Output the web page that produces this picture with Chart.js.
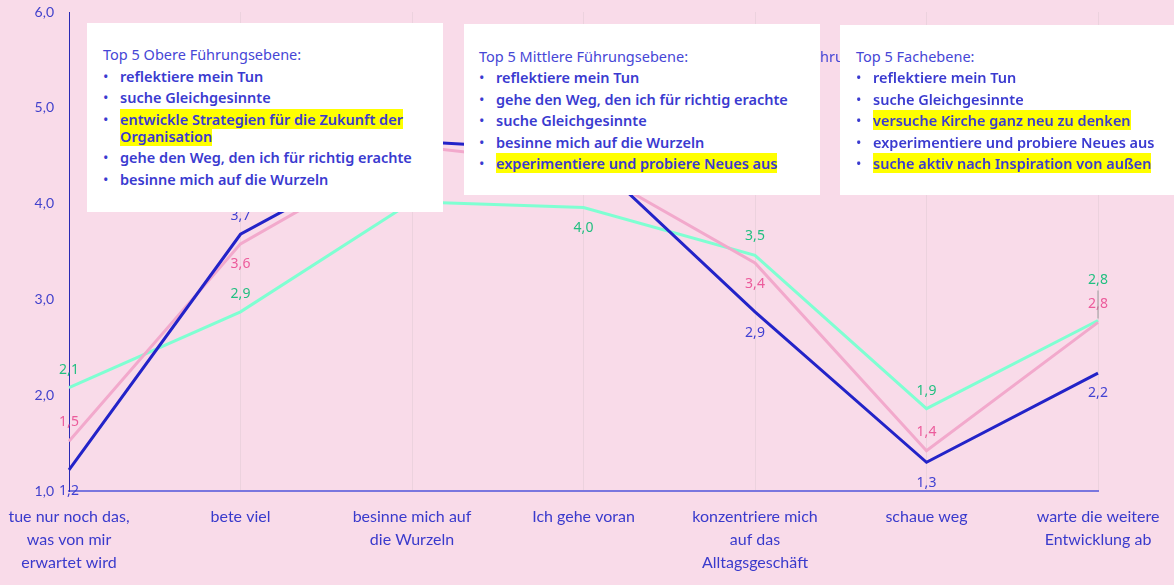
<!DOCTYPE html>
<html>
<head>
<meta charset="utf-8">
<script src="https://cdn.jsdelivr.net/npm/chart.js@4.4.1/dist/chart.umd.min.js"></script>
<style>
  html, body { margin: 0; padding: 0; background: #f9dbe9; }
  #wrap { position: relative; width: 1174px; height: 585px; overflow: hidden; }
  #myChart { position: absolute; left: 0; top: 0; }
  .note {
    position: absolute; background: #fff; box-sizing: border-box;
    font-family: "Noto Sans", sans-serif; font-size: 14.5px; color: #3a3ad0;
  }
  .note .head { line-height: 17px; color: #4646d6; }
  .note ul { list-style: none; margin: 0; padding: 0; }
  .note li { position: relative; line-height: 17px; margin-top: 4.6px; font-weight: 600; padding-left: 17px; }
  .note li::before { content: "\2022"; position: absolute; left: 0; top: 0; font-weight: 400; }
  .hl { background: #ffff00; }
  #title { position: absolute; top: 48px; left: 600px; white-space: nowrap;
    font-family: "Noto Sans", sans-serif; font-size: 14.5px; color: #4646d6; line-height: 17px; }
</style>
</head>
<body>
<div id="wrap">
  <canvas id="myChart" width="1174" height="585"></canvas>
  <div id="title">Mittelwerte nach Fü<span id="frag">hru</span>ngsebene</div>
  <div class="note" style="left:87px; top:23px; width:356px; height:189px; padding:23px 0 0 16px;">
    <div class="head">Top 5 Obere Führungsebene:</div>
    <ul>
      <li>reflektiere mein Tun</li>
      <li>suche Gleichgesinnte</li>
      <li><span class="hl">entwickle Strategien für die Zukunft der </span><br><span class="hl">Organisation</span></li>
      <li>gehe den Weg, den ich für richtig erachte</li>
      <li>besinne mich auf die Wurzeln</li>
    </ul>
  </div>
  <div class="note" style="left:464px; top:24px; width:356px; height:171px; padding:23.5px 0 0 15px;">
    <div class="head">Top 5 Mittlere Führungsebene:</div>
    <ul>
      <li>reflektiere mein Tun</li>
      <li>gehe den Weg, den ich für richtig erachte</li>
      <li>suche Gleichgesinnte</li>
      <li>besinne mich auf die Wurzeln</li>
      <li><span class="hl">experimentiere und probiere Neues aus</span></li>
    </ul>
  </div>
  <div class="note" style="left:840px; top:25px; width:340px; height:170px; padding:22.5px 0 0 16px;">
    <div class="head">Top 5 Fachebene:</div>
    <ul>
      <li>reflektiere mein Tun</li>
      <li>suche Gleichgesinnte</li>
      <li><span class="hl">versuche Kirche ganz neu zu denken</span></li>
      <li>experimentiere und probiere Neues aus</li>
      <li><span class="hl">suche aktiv nach Inspiration von außen</span></li>
    </ul>
  </div>
</div>
<script>
var categories = [
  ["tue nur noch das,", "was von mir", "erwartet wird"],
  ["bete viel"],
  ["besinne mich auf", "die Wurzeln"],
  ["Ich gehe voran"],
  ["konzentriere mich", "auf das", "Alltagsgeschäft"],
  ["schaue weg"],
  ["warte die weitere", "Entwicklung ab"]
];
var obereValues    = [1.22, 3.68, 4.65, 4.55, 2.87, 1.30, 2.23];
var mittlereValues = [1.52, 3.58, 4.60, 4.40, 3.38, 1.42, 2.76];
var fachValues     = [2.08, 2.87, 4.02, 3.96, 3.46, 1.86, 2.78];
var yTicks = [1, 2, 3, 4, 5, 6];

// where the value labels sit relative to the point (px, negative = above)
var obereOffsets    = [21, -18, -18, -18, 21, 21, 20];
var mittlereOffsets = [-19, 20, -18, -18, 21, -19, -18];
var fachOffsets     = [-18, -18, -18, 21, -19, -18, -40];

function fmt(v) { return v.toFixed(1).replace(".", ","); }

var valueLabels = {
  id: "valueLabels",
  afterDatasetsDraw: function(chart) {
    var ctx = chart.ctx;
    ctx.save();
    ctx.font = "14px 'Noto Sans'";
    ctx.textAlign = "center";
    ctx.textBaseline = "middle";
    chart.data.datasets.forEach(function(ds, i) {
      var meta = chart.getDatasetMeta(i);
      meta.data.forEach(function(pt, j) {
        var off = ds.labelOffsets[j];
        if (Math.abs(off) > 30) {
          ctx.strokeStyle = "#9a9a9a";
          ctx.lineWidth = 1;
          ctx.beginPath();
          ctx.moveTo(pt.x, pt.y + off + 10);
          ctx.lineTo(pt.x, pt.y - 2);
          ctx.stroke();
        }
        ctx.fillStyle = ds.labelColor;
        ctx.fillText(fmt(ds.data[j]), pt.x, pt.y + off);
      });
    });
    ctx.restore();
  }
};

var myChart = new Chart("myChart", {
  type: "line",
  data: {
    labels: categories,
    datasets: [{
      label: "Obere Führungsebene",
      data: obereValues,
      borderColor: "#2323c8",
      borderWidth: 3,
      labelColor: "#4242d2",
      labelOffsets: obereOffsets
    }, {
      label: "Mittlere Führungsebene",
      data: mittlereValues,
      borderColor: "#f2a9cc",
      borderWidth: 3,
      labelColor: "#ec5b9b",
      labelOffsets: mittlereOffsets
    }, {
      label: "Fachebene",
      data: fachValues,
      borderColor: "#7fffd2",
      borderWidth: 3,
      labelColor: "#22bf80",
      labelOffsets: fachOffsets
    }]
  },
  options: {
    responsive: false,
    animation: false,
    lineTension: 0,
    elements: { point: { radius: 0, hoverRadius: 0 }, line: { fill: false } },
    layout: { padding: { top: 12, right: 76, left: 0, bottom: 0 } },
    plugins: { legend: { display: false }, tooltip: { enabled: false } },
    scales: {
      x: {
        offset: false,
        grid: { color: "#ecd2de", drawTicks: false },
        border: { color: "#7a76de", width: 2 },
        ticks: {
          color: "#3a3acc",
          font: { family: "Lato", size: 16, lineHeight: 1.44 },
          padding: 14,
          maxRotation: 0,
          autoSkip: false
        },
        afterFit: function(s) { s.height = 94; s.paddingLeft = 0; s.paddingRight = 0; }
      },
      y: {
        min: 1, max: 6,
        afterBuildTicks: function(s) { s.ticks = yTicks.map(function(v) { return { value: v }; }); },
        grid: { drawOnChartArea: false, drawTicks: false },
        border: { color: "#2a2ab4", width: 1 },
        ticks: {
          color: "#4242cc",
          font: { family: "Lato", size: 14 },
          padding: 15,
          callback: function(v) { return fmt(v); }
        },
        afterFit: function(s) { s.width = 69; s.paddingTop = 0; s.paddingBottom = 0; }
      }
    }
  },
  plugins: [valueLabels]
});

// put the partly covered heading so that its visible piece lands in the gap
var frag = document.getElementById("frag");
var title = document.getElementById("title");
var shift = 820 - frag.getBoundingClientRect().left;
title.style.left = (600 + shift) + "px";
</script>
</body>
</html>
